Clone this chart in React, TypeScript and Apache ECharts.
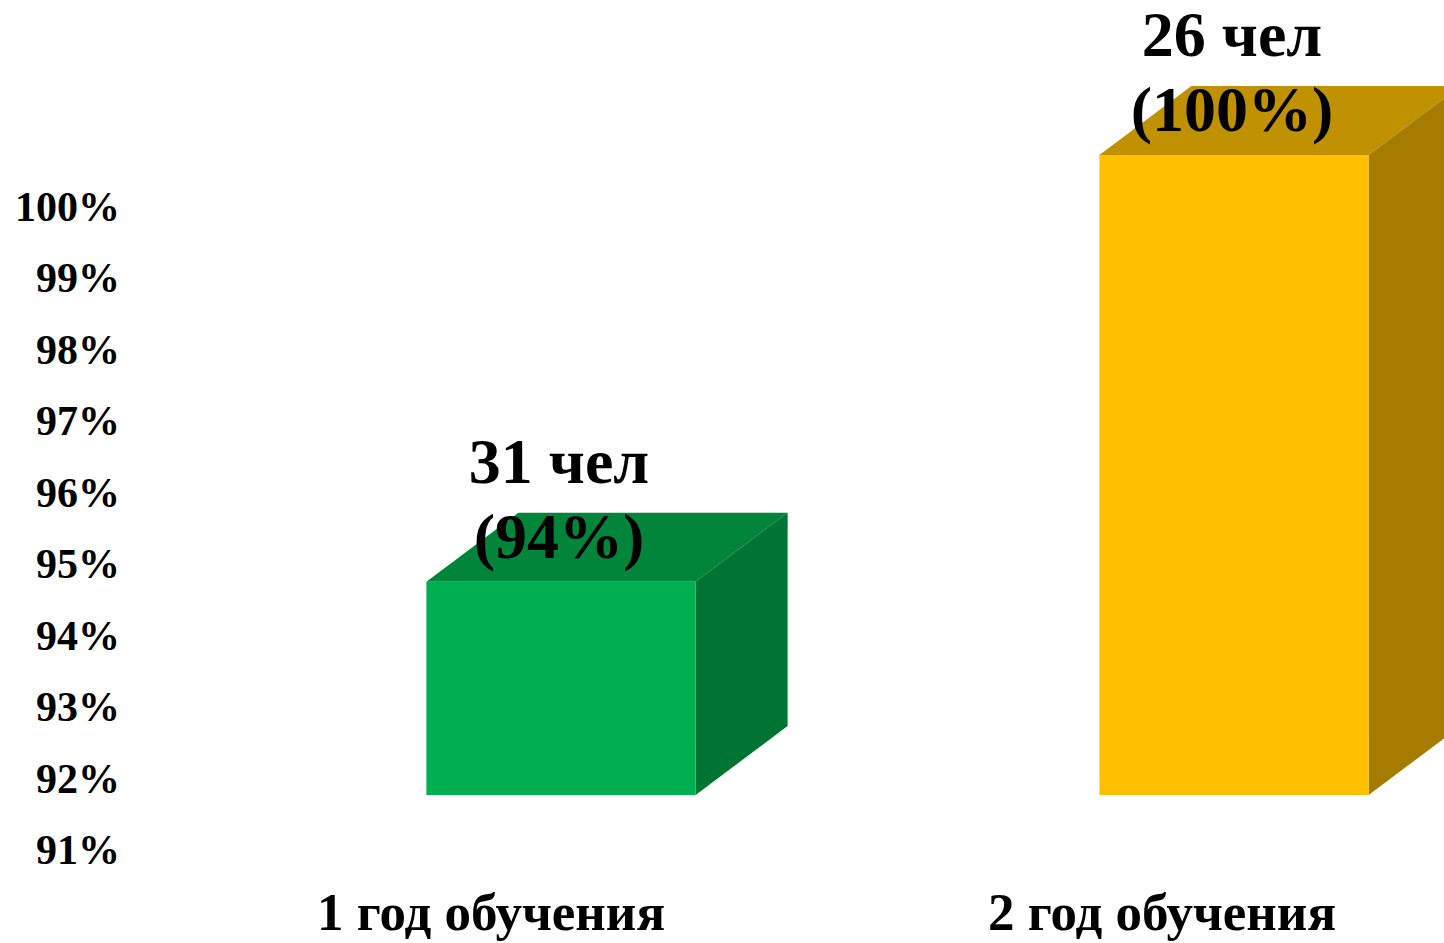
import React, { useEffect, useRef } from "react";
import * as echarts from "echarts";

const categories = ["1 год обучения", "2 год обучения"];
const percentValues = [94, 100];
const peopleCounts = [31, 26];
const frontColors = ["#00B050", "#FFC000"];
const topColors = ["#00853B", "#C09100"];
const sideColors = ["#007433", "#A67C00"];
const yMin = 91;
const yMax = 100;

const FONT = "'Liberation Serif', 'Times New Roman', serif";

export default function App() {
  const ref = useRef<HTMLDivElement>(null);

  useEffect(() => {
    if (!ref.current) return;
    const chart = echarts.init(ref.current, undefined, { renderer: "svg" });
    const depthX = 92;
    const depthY = 69;

    const option: any = {
      animation: false,
      backgroundColor: "#ffffff",
      grid: [
        { left: 156, width: 200, top: 207, height: 643 },
        { left: 491, width: 671, top: 207, height: 643 },
        { left: 561, width: 673, top: 155, height: 640 },
      ],
      xAxis: [
        { type: "value", gridIndex: 0, show: false },
        {
          type: "category",
          gridIndex: 1,
          data: categories,
          boundaryGap: false,
          axisLine: { show: false },
          axisTick: { show: false },
          splitLine: { show: false },
          axisLabel: {
            margin: 35,
            fontFamily: FONT,
            fontWeight: "bold",
            fontSize: 53,
            color: "#000",
          },
        },
        {
          type: "value",
          gridIndex: 2,
          min: 0,
          max: 1,
          show: false,
        },
      ],
      yAxis: [
        {
          type: "value",
          gridIndex: 0,
          min: yMin,
          max: yMax,
          interval: 1,
          axisLine: { show: false },
          axisTick: { show: false },
          splitLine: { show: false },
          axisLabel: {
            margin: 36,
            formatter: "{value}%",
            fontFamily: FONT,
            fontWeight: "bold",
            fontSize: 42,
            color: "#000",
          },
        },
        { type: "value", gridIndex: 1, min: yMin, max: yMax, show: false },
        { type: "value", gridIndex: 2, min: yMin, max: yMax, show: false },
      ],
      series: [
        {
          type: "custom",
          xAxisIndex: 2,
          yAxisIndex: 2,
          clip: false,
          data: percentValues.map((v, i) => [i, v]),
          renderItem: (params: any, api: any) => {
            const idx = api.value(0);
            const val = api.value(1);
            const top = api.coord([idx, val]);
            const bottom = api.coord([idx, yMin]);
            const bw = api.size([1, 0])[0] * 0.4;
            const x0 = top[0] - bw / 2;
            const x1 = top[0] + bw / 2;
            const yt = top[1];
            const yb = bottom[1];
            return {
              type: "group",
              children: [
                {
                  type: "polygon",
                  shape: {
                    points: [
                      [x0, yt],
                      [x1, yt],
                      [x1 + depthX, yt - depthY],
                      [x0 + depthX, yt - depthY],
                    ],
                  },
                  style: { fill: topColors[idx] },
                },
                {
                  type: "polygon",
                  shape: {
                    points: [
                      [x1, yt],
                      [x1 + depthX, yt - depthY],
                      [x1 + depthX, yb - depthY],
                      [x1, yb],
                    ],
                  },
                  style: { fill: sideColors[idx] },
                },
                {
                  type: "rect",
                  shape: { x: x0, y: yt, width: bw, height: yb - yt },
                  style: { fill: frontColors[idx] },
                },
                {
                  type: "text",
                  z2: 10,
                  style: {
                    x: top[0] - 2,
                    y: yt - 83,
                    text: peopleCounts[idx] + " чел\n(" + percentValues[idx] + "%)",
                    fontFamily: FONT,
                    fontWeight: "bold",
                    fontSize: 64,
                    lineHeight: 75,
                    fill: "#000",
                    align: "center",
                    verticalAlign: "middle",
                  },
                },
              ],
            };
          },
        },
      ],
    };
    chart.setOption(option);
    return () => chart.dispose();
  }, []);

  return (
    <div
      ref={ref}
      style={{ position: "fixed", left: 0, top: 0, width: 1444, height: 943 }}
    />
  );
}
